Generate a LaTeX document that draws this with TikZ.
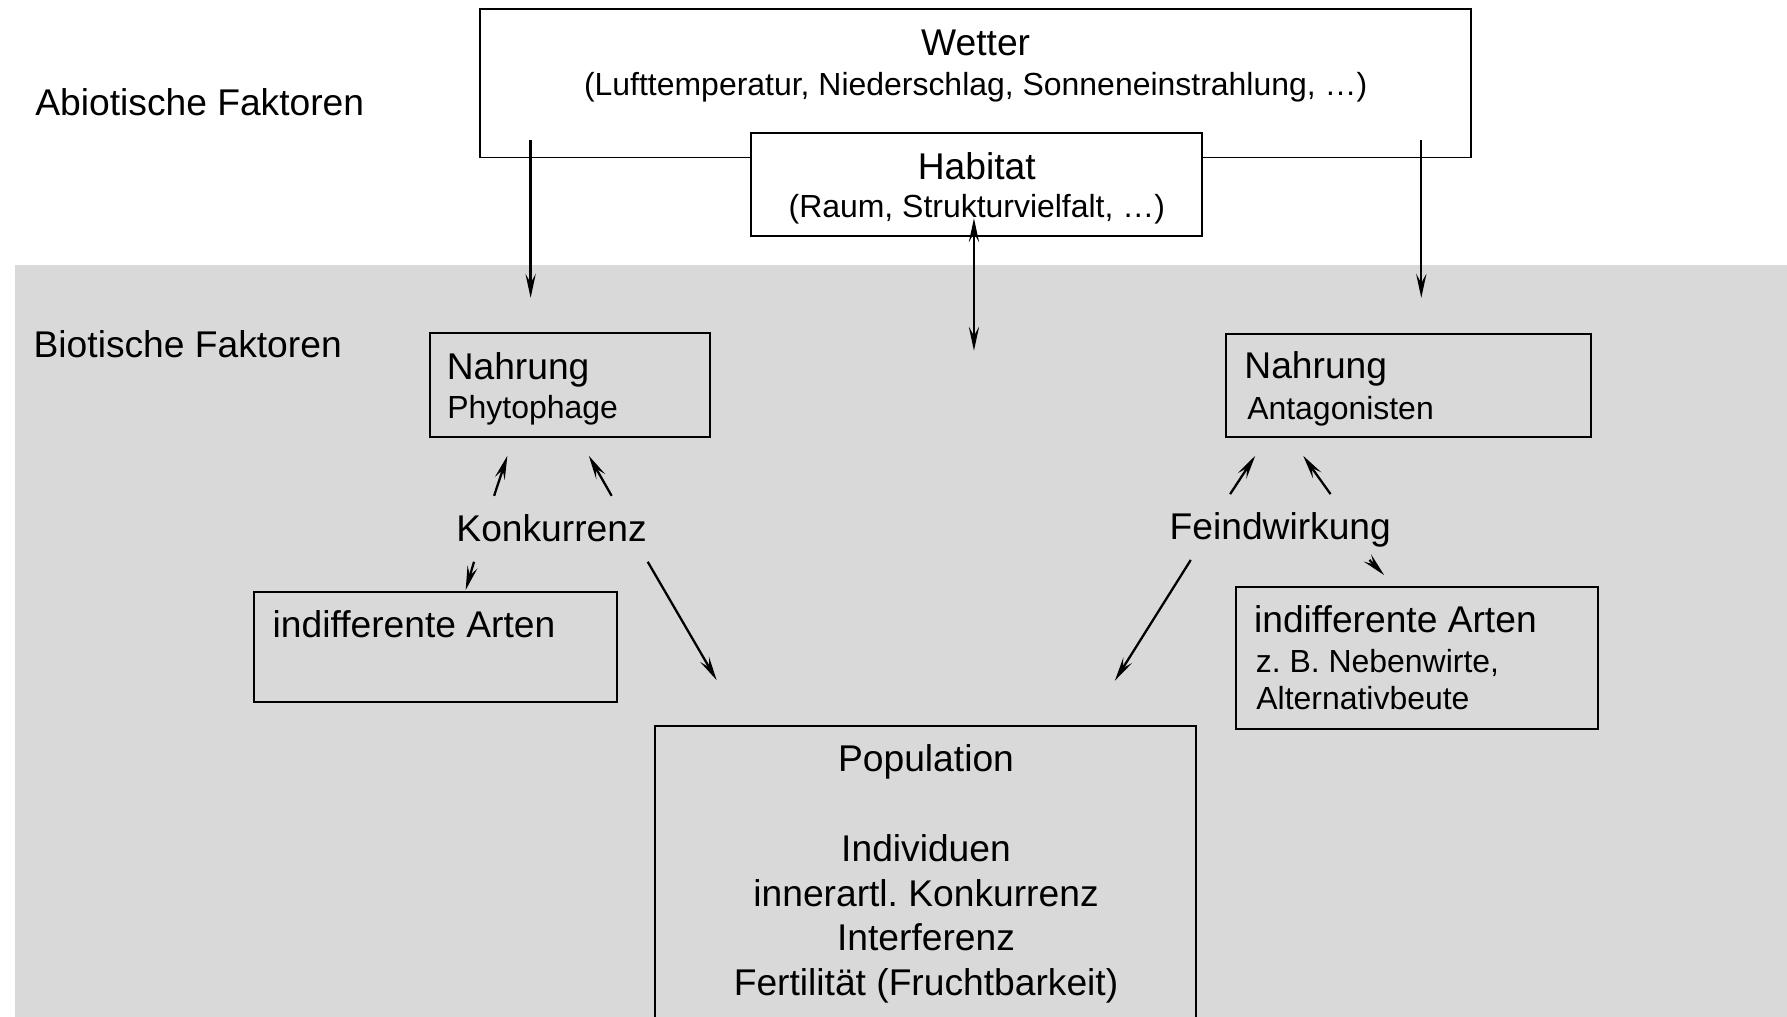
\documentclass[tikz,border=0pt]{standalone}
\usepackage{fontspec}
\setmainfont{Liberation Sans}
\usetikzlibrary{arrows.meta}
\definecolor{bgray}{HTML}{D9D9D9}
\frenchspacing
\begin{document}
\begin{tikzpicture}[x=1pt,y=-1pt,
  box/.style={draw=black, line width=1.7pt, inner sep=0pt, outer sep=0pt},
  maintxt/.style={font=\fontsize{32.6}{39}\selectfont, inner sep=0pt, outer sep=0pt},
  subtxt/.style={font=\fontsize{28}{34}\selectfont, inner sep=0pt, outer sep=0pt},
  arr/.style={line width=2pt, -{Stealth[length=21pt,width=9pt,inset=8pt]}},
  darr/.style={line width=2pt, {Stealth[length=21pt,width=9pt,inset=8pt]}-{Stealth[length=21pt,width=9pt,inset=8pt]}},
]
\useasboundingbox (0,0) rectangle (1566,891);
\clip (0,0) rectangle (1566,891);
\fill[bgray] (13,232.2) rectangle (1570,900);

% boxes
\node[box, fill=white, minimum width=868pt, minimum height=130pt] (wetter) at (855,73) {};
\node[box, fill=white, minimum width=395pt, minimum height=90pt] (habitat) at (855.5,161.5) {};
\node[box, minimum width=245.5pt, minimum height=91pt] (nahrL) at (499.75,337.5) {};
\node[box, minimum width=319.5pt, minimum height=90.3pt] (nahrR) at (1234.25,337.8) {};
\node[box, minimum width=318pt, minimum height=96.5pt] (indL) at (381.5,566.75) {};
\node[box, minimum width=317.5pt, minimum height=125pt] (indR) at (1241.75,576.5) {};
\node[box, minimum width=474pt, minimum height=364pt] (pop) at (811,818) {};

% texts
\node[maintxt, anchor=base west] (abio) at (31,101) {Abiotische Faktoren};
\node[maintxt, anchor=base west] (bio) at (29.5,313.5) {Biotische Faktoren};
\node[maintxt, anchor=base] (wt) at (855,48.2) {Wetter};
\node[subtxt, anchor=base] (wts) at (855,83.5) {(Lufttemperatur, Niederschlag, Sonneneinstrahlung, …)};
\node[maintxt, anchor=base] (ht) at (856,157) {Habitat};
\node[subtxt, anchor=base] (hts) at (856,190.5) {(Raum, Strukturvielfalt, …)};
\node[maintxt, anchor=base west] (nL1) at (391.5,333) {Nahrung};
\node[subtxt, anchor=base west] (nL2) at (392,367) {Phytophage};
\node[maintxt, anchor=base west] (nR1) at (1090.5,332) {Nahrung};
\node[subtxt, anchor=base west] (nR2) at (1093,368) {Antagonisten};
\node[maintxt, anchor=base west] (konk) at (400,474.7) {Konkurrenz};
\node[maintxt, anchor=base west] (feind) at (1025,473) {Feindwirkung};
\node[maintxt, anchor=base west] (iL1) at (239,558.5) {indifferente Arten};
\node[maintxt, anchor=base west] (iR1) at (1099,554.4) {indifferente Arten};
\node[subtxt, anchor=base west] (iR2) at (1100.5,589.5) {z. B. Nebenwirte,};
\node[subtxt, anchor=base west] (iR3) at (1101,622) {Alternativbeute};
\node[maintxt, anchor=base] (p1) at (811.5,676) {Population};
\node[maintxt, anchor=base] (p2) at (811.5,755) {Individuen};
\node[maintxt, anchor=base] (p3) at (811.5,794) {innerartl. Konkurrenz};
\node[maintxt, anchor=base] (p4) at (811.5,833) {Interferenz};
\node[maintxt, anchor=base] (p5) at (811.5,872) {Fertilität (Fruchtbarkeit)};

% arrow end points
\coordinate (aLs) at (465,123);      \coordinate (aLe) at (465,261);
\coordinate (aRs) at (1245.5,123);   \coordinate (aRe) at (1245.5,261);
\coordinate (aMs) at (853.5,191.3);  \coordinate (aMe) at (853.5,307.3);
\coordinate (k1s) at (433,434.5);    \coordinate (k1e) at (444.6,399.4);
\coordinate (k2s) at (536,434.5);    \coordinate (k2e) at (516,399.4);
\coordinate (k3s) at (415.4,492.3);  \coordinate (k3e) at (408.1,517);
\coordinate (k4s) at (567.6,492.3);  \coordinate (k4e) at (628,596);
\coordinate (f1s) at (1078,433);     \coordinate (f1e) at (1100,399.4);
\coordinate (f2s) at (1166,433);     \coordinate (f2e) at (1142,399.4);
\coordinate (f3s) at (1043.5,490.7); \coordinate (f3e) at (977,596.5);
\coordinate (f4s) at (1200,490.7);   \coordinate (f4e) at (1213,504);

% arrows
\draw[arr] (aLs) -- (aLe);
\draw[arr] (aRs) -- (aRe);
\draw[darr] (aMs) -- (aMe);
\draw[arr] (k1s) -- (k1e);
\draw[arr] (k2s) -- (k2e);
\draw[arr] (k3s) -- (k3e);
\draw[arr] (k4s) -- (k4e);
\draw[arr] (f1s) -- (f1e);
\draw[arr] (f2s) -- (f2e);
\draw[arr] (f3s) -- (f3e);
\draw[arr] (f4s) -- (f4e);
\end{tikzpicture}
\end{document}
